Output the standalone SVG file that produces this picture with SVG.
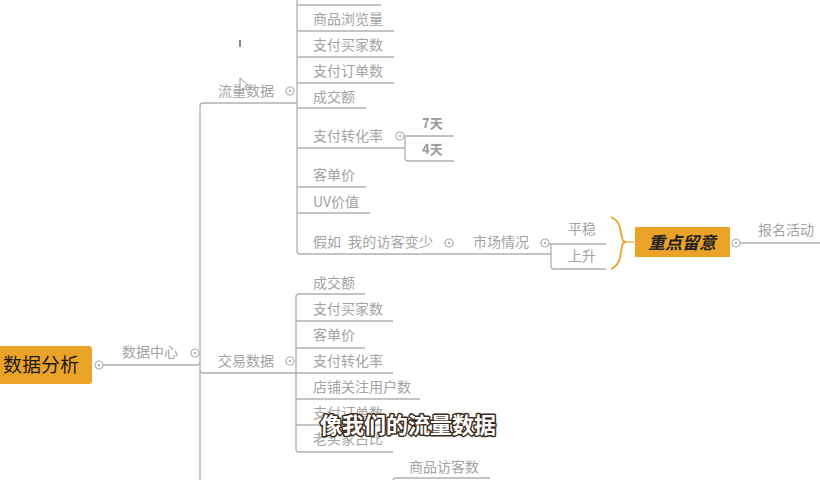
<svg xmlns="http://www.w3.org/2000/svg" width="820" height="480" viewBox="0 0 820 480">
<style>
.t{font-family:"Noto Sans CJK SC","Noto Sans",sans-serif;font-size:14px;fill:#a3a3a3}
.s{font-family:"Noto Sans CJK SC","Noto Sans",sans-serif;font-size:13px;fill:#9a9a9a;font-weight:bold}
.ln{fill:none;stroke:#aab3b0;stroke-width:1.3}
.c{fill:#fff;stroke:#aab3b0;stroke-width:1.2}
.d{fill:#aab3b0}
</style>
<defs>
<g id="knob"><circle class="c" r="4"/><circle class="d" r="1.2"/></g>
</defs>
<rect width="820" height="480" fill="#fff"/>
<g id="connectors">
<path class="ln" d="M103 365 H197 Q200 365 200 362"/>
<path class="ln" d="M297 103 H203 Q200 103 200 106 V480"/>
<path class="ln" d="M200 370 Q200 373 203 373 H296"/>
<path class="ln" d="M297 0 V251 Q297 254 300 254 H551"/>
<path class="ln" d="M297 5 H381"/>
<path class="ln" d="M297 31 H394"/>
<path class="ln" d="M297 57 H394"/>
<path class="ln" d="M297 83 H394"/>
<path class="ln" d="M297 108 H366"/>
<path class="ln" d="M297 148 H405"/>
<path class="ln" d="M297 187 H366"/>
<path class="ln" d="M297 213 H370"/>
<path class="ln" d="M404 136 H454"/>
<path class="ln" d="M454 161 H408 Q405 161 405 158 V136"/>
<path class="ln" d="M549 244 H606"/>
<path class="ln" d="M606 269 H554 Q551 269 551 266 V244"/>
<path d="M611 217 Q618 220 620 228 L622 238 Q623 242 626 242 Q623 242 622 246 L620 258 Q618 266 611 269" fill="none" stroke="#eaa227" stroke-width="1.8"/>
<path d="M626 242 H634" fill="none" stroke="#eaa227" stroke-width="1.2"/>
<path class="ln" d="M740 243 H820"/>
<path class="ln" d="M365 294 H299 Q296 294 296 297 V449 Q296 452 299 452 H393"/>
<path class="ln" d="M296 321 H393"/>
<path class="ln" d="M296 348 H365"/>
<path class="ln" d="M296 373 H393"/>
<path class="ln" d="M296 399 H420"/>
<path class="ln" d="M296 425 H393"/>
<path class="ln" d="M490 478 H396 Q393 478 393 481"/>
</g>
<g id="root">
<rect x="-4" y="346" width="96" height="38" rx="3" fill="#eaa227"/>
<text x="3" y="372" style="font-family:'Noto Sans CJK SC',sans-serif;font-size:19px;fill:#1a1a1a">数据分析</text>
<use href="#knob" x="99" y="365"/>
</g>
<g id="n-datacenter">
<text class="t" x="122" y="357">数据中心</text>
<use href="#knob" x="195" y="353"/>
</g>
<g id="n-traffic">
<text class="t" x="218" y="96">流量数据</text>
<use href="#knob" x="290" y="91"/>
</g>
<g id="traffic-children">
<text class="t" x="313" y="24">商品浏览量</text>
<text class="t" x="313" y="50">支付买家数</text>
<text class="t" x="313" y="76">支付订单数</text>
<text class="t" x="313" y="102">成交额</text>
<text class="t" x="313" y="141">支付转化率</text>
<use href="#knob" x="400" y="136"/>
<text class="s" x="422" y="128">7天</text>
<text class="s" x="422" y="154">4天</text>
<text class="t" x="313" y="180">客单价</text>
<text class="t" x="313" y="207">UV价值</text>
</g>
<g id="n-ifvisitors">
<text class="t" x="313" y="247">假如</text>
<text class="t" x="348" y="247" style="letter-spacing:0.2px">我的访客变少</text>
<use href="#knob" x="449" y="243"/>
</g>
<g id="n-market">
<text class="t" x="473" y="247">市场情况</text>
<use href="#knob" x="545" y="243"/>
</g>
<g id="n-stable"><text class="t" x="568" y="234">平稳</text></g>
<g id="n-rise"><text class="t" x="568" y="261">上升</text></g>
<g id="n-focus">
<rect x="635" y="227" width="95" height="30" fill="#eaa227"/>
<text x="648" y="249" style="font-family:'Noto Sans CJK SC',sans-serif;font-size:17px;font-style:italic;font-weight:bold;fill:#222">重点留意</text>
<use href="#knob" x="736" y="243"/>
</g>
<g id="n-signup"><text class="t" x="758" y="235">报名活动</text></g>
<g id="n-trade">
<text class="t" x="218" y="366">交易数据</text>
<use href="#knob" x="290" y="361"/>
</g>
<g id="trade-children">
<text class="t" x="313" y="288">成交额</text>
<text class="t" x="313" y="314">支付买家数</text>
<text class="t" x="313" y="340">客单价</text>
<text class="t" x="313" y="366">支付转化率</text>
<text class="t" x="313" y="392">店铺关注用户数</text>
<text class="t" x="313" y="418">支付订单数</text>
<text class="t" x="313" y="444">老买家占比</text>
</g>
<g id="n-product-visitors"><text class="t" x="409" y="472">商品访客数</text></g>
<g id="cursor">
<rect x="239" y="40" width="2" height="7" fill="#888"/>
<path d="M240 78 V91 L243 88 L246 90 L247 89 L245 86 L248 85 Z" fill="#fff" stroke="#999" stroke-width="1"/>
</g>
<g id="subtitle">
<text x="320" y="433" style="font-family:'Noto Sans CJK SC',sans-serif;font-size:22px;font-weight:bold;fill:#fff;stroke:#3b2a1c;stroke-width:3;paint-order:stroke;stroke-linejoin:round">像我们的流量数据</text>
</g>
</svg>
